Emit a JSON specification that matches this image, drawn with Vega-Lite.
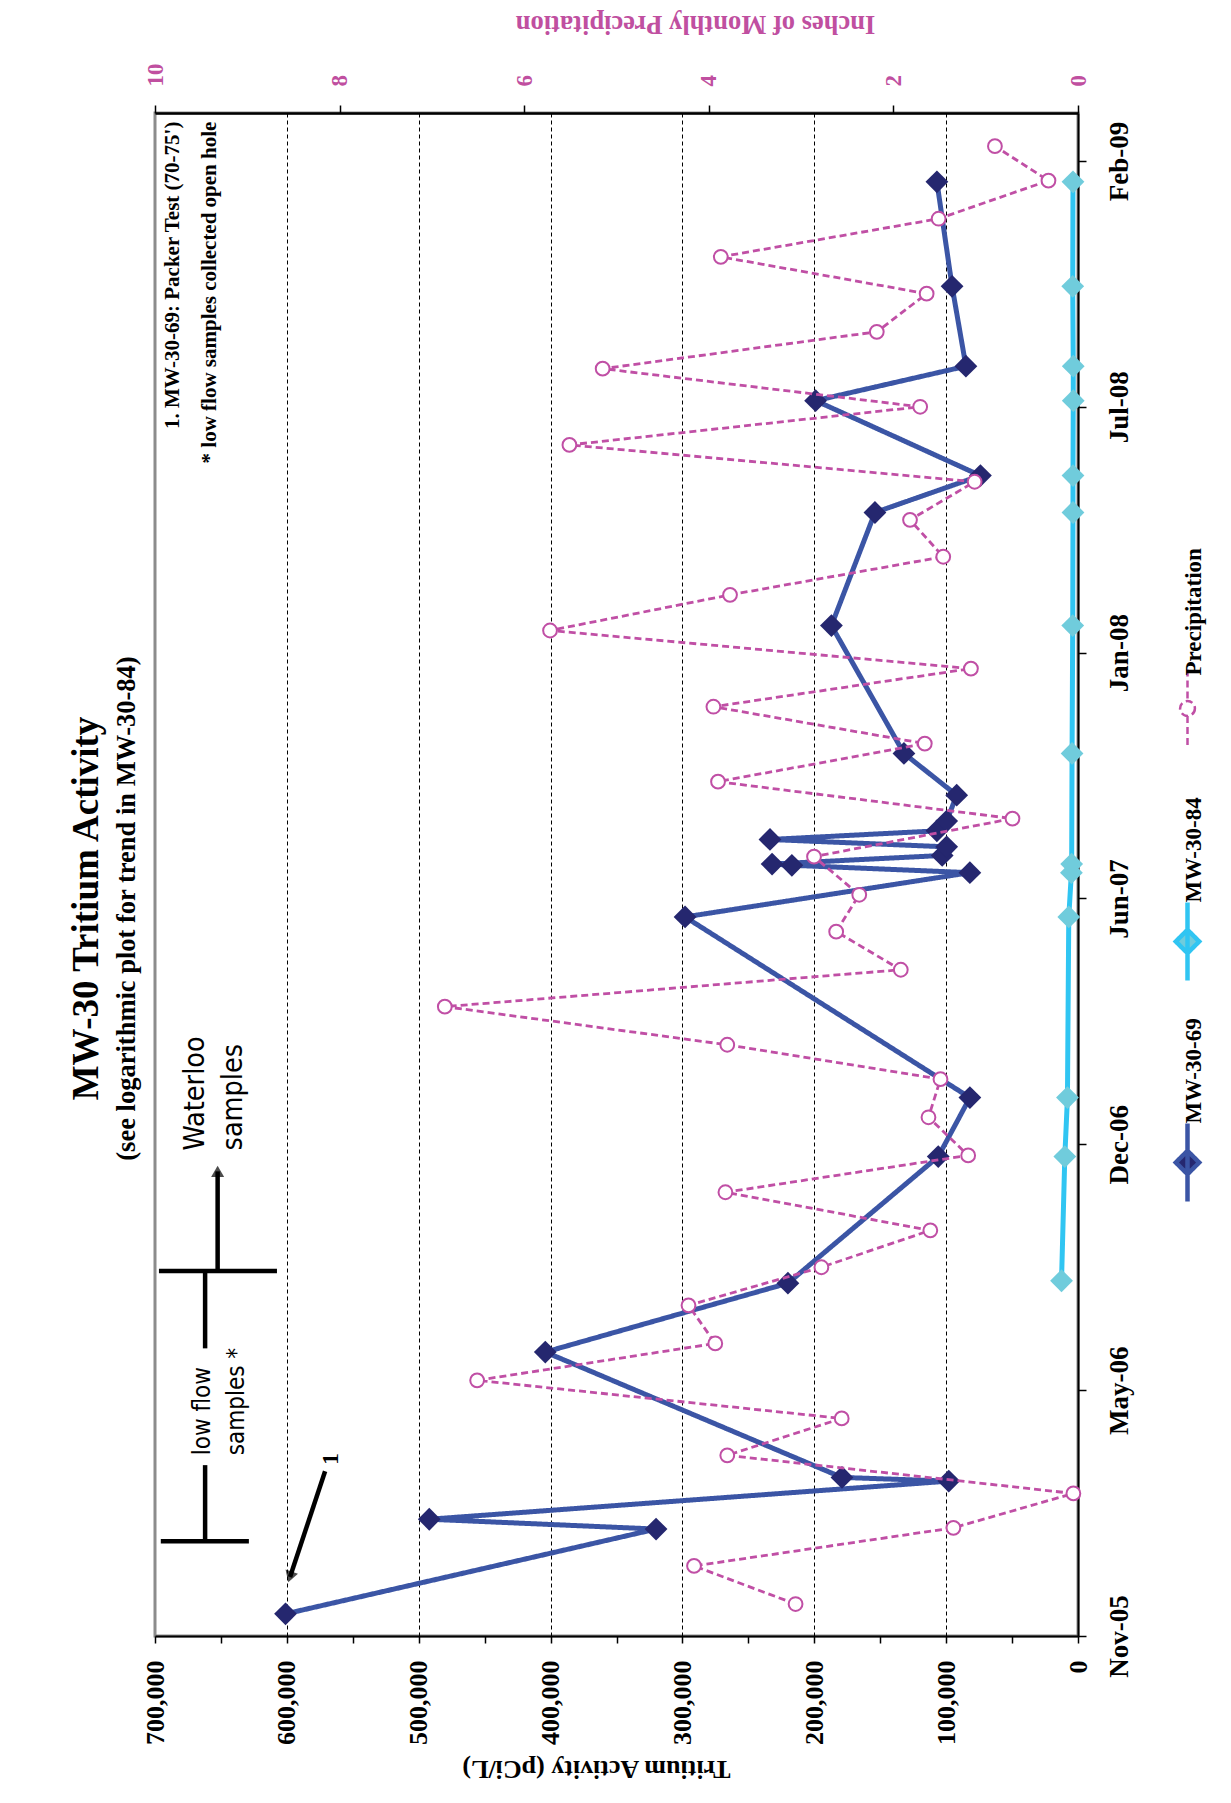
{
  "$schema": "https://vega.github.io/schema/vega-lite/v6.json",
  "width": 923,
  "height": 1523,
  "autosize": {"type": "none"},
  "padding": {"left": 155, "top": 113, "right": 153, "bottom": 167},
  "background": "white",
  "config": {"view": {"stroke": "#8c8c8c", "strokeWidth": 3}, "font": "Liberation Serif"},
  "title": {
    "text": "MW-30 Tritium Activity",
    "subtitle": "(see logarithmic plot for trend in MW-30-84)",
    "orient": "left",
    "anchor": "middle",
    "font": "Liberation Serif",
    "fontSize": 37,
    "fontWeight": "bold",
    "color": "black",
    "subtitleFont": "Liberation Serif",
    "subtitleFontSize": 26.5,
    "subtitleFontWeight": "bold",
    "subtitleColor": "black",
    "subtitlePadding": 8,
    "offset": 1,
    "dx": -34
  },
  "datasets": {
    "tritium": [
      {"series": "MW-30-69", "date": "2005-11-19", "pci": 601000},
      {"series": "MW-30-69", "date": "2006-01-27", "pci": 320000},
      {"series": "MW-30-69", "date": "2006-02-04", "pci": 492000},
      {"series": "MW-30-69", "date": "2006-03-07", "pci": 98000},
      {"series": "MW-30-69", "date": "2006-03-10", "pci": 179000},
      {"series": "MW-30-69", "date": "2006-06-20", "pci": 404000},
      {"series": "MW-30-69", "date": "2006-08-15", "pci": 220000},
      {"series": "MW-30-69", "date": "2006-11-26", "pci": 106000},
      {"series": "MW-30-69", "date": "2007-01-13", "pci": 82000},
      {"series": "MW-30-69", "date": "2007-06-09", "pci": 298000},
      {"series": "MW-30-69", "date": "2007-07-15", "pci": 82000},
      {"series": "MW-30-69", "date": "2007-07-21", "pci": 217000},
      {"series": "MW-30-69", "date": "2007-07-22", "pci": 232000},
      {"series": "MW-30-69", "date": "2007-07-29", "pci": 103000},
      {"series": "MW-30-69", "date": "2007-08-05", "pci": 99600},
      {"series": "MW-30-69", "date": "2007-08-11", "pci": 233600},
      {"series": "MW-30-69", "date": "2007-08-18", "pci": 107000},
      {"series": "MW-30-69", "date": "2007-08-26", "pci": 99600},
      {"series": "MW-30-69", "date": "2007-09-16", "pci": 92000},
      {"series": "MW-30-69", "date": "2007-10-20", "pci": 132000},
      {"series": "MW-30-69", "date": "2008-02-01", "pci": 187000},
      {"series": "MW-30-69", "date": "2008-05-03", "pci": 154000},
      {"series": "MW-30-69", "date": "2008-06-02", "pci": 74000},
      {"series": "MW-30-69", "date": "2008-08-02", "pci": 199000},
      {"series": "MW-30-69", "date": "2008-08-30", "pci": 85000},
      {"series": "MW-30-69", "date": "2008-11-03", "pci": 95500},
      {"series": "MW-30-69", "date": "2009-01-27", "pci": 107000},
      {"series": "MW-30-84", "date": "2006-08-17", "pci": 12500},
      {"series": "MW-30-84", "date": "2006-11-26", "pci": 10000},
      {"series": "MW-30-84", "date": "2007-01-13", "pci": 8000},
      {"series": "MW-30-84", "date": "2007-06-09", "pci": 7000},
      {"series": "MW-30-84", "date": "2007-07-15", "pci": 5000},
      {"series": "MW-30-84", "date": "2007-07-22", "pci": 4800},
      {"series": "MW-30-84", "date": "2007-10-20", "pci": 4500},
      {"series": "MW-30-84", "date": "2008-02-01", "pci": 4000},
      {"series": "MW-30-84", "date": "2008-05-03", "pci": 3800},
      {"series": "MW-30-84", "date": "2008-06-02", "pci": 3800},
      {"series": "MW-30-84", "date": "2008-08-02", "pci": 3600},
      {"series": "MW-30-84", "date": "2008-08-30", "pci": 3600},
      {"series": "MW-30-84", "date": "2008-11-03", "pci": 4000},
      {"series": "MW-30-84", "date": "2009-01-27", "pci": 3800}
    ],
    "precip": [
      {"series": "Precipitation", "date": "2005-11-27", "inches": 3.06},
      {"series": "Precipitation", "date": "2005-12-28", "inches": 4.16},
      {"series": "Precipitation", "date": "2006-01-28", "inches": 1.35},
      {"series": "Precipitation", "date": "2006-02-25", "inches": 0.05},
      {"series": "Precipitation", "date": "2006-03-28", "inches": 3.8},
      {"series": "Precipitation", "date": "2006-04-27", "inches": 2.56},
      {"series": "Precipitation", "date": "2006-05-28", "inches": 6.51},
      {"series": "Precipitation", "date": "2006-06-27", "inches": 3.93},
      {"series": "Precipitation", "date": "2006-07-28", "inches": 4.22},
      {"series": "Precipitation", "date": "2006-08-28", "inches": 2.78},
      {"series": "Precipitation", "date": "2006-09-27", "inches": 1.6},
      {"series": "Precipitation", "date": "2006-10-28", "inches": 3.82},
      {"series": "Precipitation", "date": "2006-11-27", "inches": 1.19},
      {"series": "Precipitation", "date": "2006-12-28", "inches": 1.62},
      {"series": "Precipitation", "date": "2007-01-28", "inches": 1.49},
      {"series": "Precipitation", "date": "2007-02-25", "inches": 3.8},
      {"series": "Precipitation", "date": "2007-03-28", "inches": 6.86},
      {"series": "Precipitation", "date": "2007-04-27", "inches": 1.92},
      {"series": "Precipitation", "date": "2007-05-28", "inches": 2.62},
      {"series": "Precipitation", "date": "2007-06-27", "inches": 2.37},
      {"series": "Precipitation", "date": "2007-07-28", "inches": 2.86},
      {"series": "Precipitation", "date": "2007-08-28", "inches": 0.71},
      {"series": "Precipitation", "date": "2007-09-27", "inches": 3.9},
      {"series": "Precipitation", "date": "2007-10-28", "inches": 1.66},
      {"series": "Precipitation", "date": "2007-11-27", "inches": 3.95},
      {"series": "Precipitation", "date": "2007-12-28", "inches": 1.16},
      {"series": "Precipitation", "date": "2008-01-28", "inches": 5.72},
      {"series": "Precipitation", "date": "2008-02-26", "inches": 3.77},
      {"series": "Precipitation", "date": "2008-03-28", "inches": 1.46},
      {"series": "Precipitation", "date": "2008-04-27", "inches": 1.82},
      {"series": "Precipitation", "date": "2008-05-28", "inches": 1.12},
      {"series": "Precipitation", "date": "2008-06-27", "inches": 5.51},
      {"series": "Precipitation", "date": "2008-07-28", "inches": 1.71},
      {"series": "Precipitation", "date": "2008-08-28", "inches": 5.15},
      {"series": "Precipitation", "date": "2008-09-27", "inches": 2.18},
      {"series": "Precipitation", "date": "2008-10-28", "inches": 1.64},
      {"series": "Precipitation", "date": "2008-11-27", "inches": 3.87},
      {"series": "Precipitation", "date": "2008-12-28", "inches": 1.51},
      {"series": "Precipitation", "date": "2009-01-28", "inches": 0.32},
      {"series": "Precipitation", "date": "2009-02-25", "inches": 0.9}
    ],
    "guides": [
      {"part": "bracket", "pci": 695600, "pci2": 628800, "date": "2006-01-17", "date2": "2006-01-17"},
      {"part": "bracket", "pci": 662000, "pci2": 662000, "date": "2006-01-17", "date2": "2006-03-20"},
      {"part": "bracket", "pci": 662000, "pci2": 662000, "date": "2006-06-23", "date2": "2006-08-25"},
      {"part": "bracket", "pci": 697000, "pci2": 607500, "date": "2006-08-25", "date2": "2006-08-25"},
      {"part": "shaft", "pci": 652500, "pci2": 652500, "date": "2006-08-25", "date2": "2006-11-14"},
      {"part": "shaft", "pci": 571000, "pci2": 597600, "date": "2006-03-15", "date2": "2005-12-19"}
    ],
    "heads": [
      {"head": "waterloo", "pci": 652500, "date": "2006-11-14"},
      {"head": "one", "pci": 597600, "date": "2005-12-19"}
    ],
    "notes": [
      {"note": "lowflow", "text": "low flow\nsamples *", "pci": 663600, "date": "2006-03-28"},
      {"note": "waterloo", "text": "Waterloo\nsamples", "pci": 669700, "date": "2006-12-01"},
      {"note": "packer", "text": "1. MW-30-69: Packer Test (70-75')\n* low flow samples collected open hole", "pci": 686400, "date": "2009-03-17"},
      {"note": "one", "text": "1", "pci": 566500, "date": "2006-03-25"}
    ]
  },
  "resolve": {"scale": {"x": "independent"}},
  "layer": [
    {
      "data": {"name": "tritium"},
      "mark": {"type": "line", "strokeWidth": 5, "strokeJoin": "round"},
      "encoding": {
        "x": {
          "field": "pci", "type": "quantitative",
          "scale": {"domain": [0, 700000], "reverse": true, "nice": false, "zero": false},
          "axis": {
            "orient": "bottom",
            "values": [0, 100000, 200000, 300000, 400000, 500000, 600000, 700000],
            "format": ",d",
            "labelAngle": 270, "labelAlign": "right", "labelBaseline": "middle",
            "labelFont": "Liberation Serif", "labelFontSize": 26, "labelFontWeight": "bold", "labelColor": "black",
            "labelPadding": 17, "labelFlush": false, "labelOverlap": false, "labelBound": false,
            "tickSize": 7, "tickColor": "black", "tickWidth": 1.5,
            "domainColor": "black", "domainWidth": 2,
            "grid": true, "gridColor": "black", "gridDash": [4, 3], "gridWidth": 1,
            "gridOpacity": {"condition": {"test": "datum.value === 0 || datum.value === 700000", "value": 0}, "value": 1},
            "title": "Tritium Activity (pCi/L)",
            "titleAngle": 180, "titleFont": "Liberation Serif", "titleFontSize": 26, "titleFontWeight": "bold", "titleColor": "black",
            "titleX": 441, "titleY": 132, "titleAlign": "center", "titleBaseline": "middle"
          }
        },
        "y": {
          "field": "date", "type": "temporal",
          "scale": {"type": "utc", "domain": [{"year": 2005, "month": 11, "date": 1, "utc": true}, {"year": 2009, "month": 3, "date": 24, "utc": true}]},
          "axis": {
            "orient": "right",
            "values": [
              {"year": 2005, "month": 11, "date": 1, "utc": true},
              {"year": 2006, "month": 5, "date": 20, "utc": true},
              {"year": 2006, "month": 12, "date": 6, "utc": true},
              {"year": 2007, "month": 6, "date": 24, "utc": true},
              {"year": 2008, "month": 1, "date": 10, "utc": true},
              {"year": 2008, "month": 7, "date": 28, "utc": true},
              {"year": 2009, "month": 2, "date": 13, "utc": true}
            ],
            "format": "%b-%y",
            "labelAngle": 270, "labelAlign": "center", "labelBaseline": "top",
            "labelFont": "Liberation Serif", "labelFontSize": 27, "labelFontWeight": "bold", "labelColor": "black",
            "labelPadding": 20, "labelFlush": false, "labelOverlap": false, "labelBound": false,
            "tickSize": 8, "tickColor": "black", "tickWidth": 1.5,
            "domainColor": "black", "domainWidth": 2,
            "grid": false, "title": null
          }
        },
        "stroke": {
          "field": "series", "type": "nominal",
          "scale": {"domain": ["Precipitation", "MW-30-84", "MW-30-69"], "range": ["#C04FA5", "#30C5F2", "#3B55A5"]},
          "legend": {
            "title": null,
            "orient": "none", "legendX": 1021, "legendY": 584,
            "direction": "vertical",
            "symbolSize": 6084, "symbolStrokeWidth": 4.5,
            "labelFont": "Liberation Serif", "labelFontSize": 23, "labelFontWeight": "bold", "labelColor": "black",
            "labelOffset": 0, "labelLimit": 400, "rowPadding": 28,
            "encoding": {
              "labels": {"angle": {"value": -90}, "dx": {"value": {"expr": "datum.value === 'Precipitation' ? 33 : 39"}}, "dy": {"value": -5}},
              "symbols": {
                "shape": {"value": {"expr": "datum.value === 'Precipitation' ? 'M0,-1L0,-0.19M0,0.19L0,1M0,1.41L0,1.41M0.19,0A0.19,0.19,0,1,1,-0.19,0A0.19,0.19,0,1,1,0.19,0Z' : 'M0,-1L0,1M-0.3,0L0,-0.3L0.3,0L0,0.3Z'"}},
                "fill": {"value": {"expr": "datum.value === 'Precipitation' ? '#ffffff' : datum.value === 'MW-30-84' ? '#70CCDC' : '#25276F'"}},
                "strokeDash": {"value": {"expr": "datum.value === 'Precipitation' ? [6, 3] : []"}},
                "strokeWidth": {"value": {"expr": "datum.value === 'Precipitation' ? 2.5 : 4.5"}}
              }
            }
          }
        },
        "strokeDash": {
          "field": "series", "type": "nominal",
          "scale": {"domain": ["Precipitation", "MW-30-84", "MW-30-69"], "range": [[7, 4], [1, 0], [1, 0]]},
          "legend": null
        },
        "order": {"field": "date", "type": "temporal"}
      }
    },
    {
      "data": {"name": "tritium"},
      "mark": {"type": "point", "shape": "diamond", "filled": true, "size": 520, "strokeWidth": 0, "opacity": 1},
      "encoding": {
        "x": {"field": "pci", "type": "quantitative", "scale": {"domain": [0, 700000], "reverse": true, "nice": false, "zero": false}, "axis": null},
        "y": {"field": "date", "type": "temporal", "scale": {"type": "utc", "domain": [{"year": 2005, "month": 11, "date": 1, "utc": true}, {"year": 2009, "month": 3, "date": 24, "utc": true}]}},
        "fill": {"field": "series", "type": "nominal", "scale": {"domain": ["MW-30-69", "MW-30-84"], "range": ["#25276F", "#70CCDC"]}, "legend": null}
      }
    },
    {
      "data": {"name": "guides"},
      "mark": {"type": "rule", "color": "black", "strokeWidth": 4.5},
      "encoding": {
        "x": {
          "field": "pci", "type": "quantitative",
          "scale": {"domain": [0, 700000], "reverse": true, "nice": false, "zero": false},
          "axis": {
            "orient": "bottom",
            "values": [50000, 150000, 250000, 350000, 450000, 550000, 650000],
            "labels": false, "grid": false, "domain": false,
            "ticks": true, "tickSize": 7, "tickColor": "black", "tickWidth": 1.5, "title": null
          }
        },
        "x2": {"field": "pci2"},
        "y": {"field": "date", "type": "temporal", "scale": {"type": "utc", "domain": [{"year": 2005, "month": 11, "date": 1, "utc": true}, {"year": 2009, "month": 3, "date": 24, "utc": true}]}},
        "y2": {"field": "date2"}
      }
    },
    {
      "data": {"name": "heads"},
      "transform": [{"filter": "datum.head === 'waterloo'"}],
      "mark": {"type": "point", "shape": "triangle-up", "filled": true, "color": "black", "size": 170, "strokeWidth": 0},
      "encoding": {
        "x": {"field": "pci", "type": "quantitative", "scale": {"domain": [0, 700000], "reverse": true, "nice": false, "zero": false}, "axis": null},
        "y": {"field": "date", "type": "temporal", "scale": {"type": "utc", "domain": [{"year": 2005, "month": 11, "date": 1, "utc": true}, {"year": 2009, "month": 3, "date": 24, "utc": true}]}}
      }
    },
    {
      "data": {"name": "heads"},
      "transform": [{"filter": "datum.head === 'one'"}],
      "mark": {"type": "point", "shape": "triangle-down", "angle": 18, "filled": true, "color": "black", "size": 170, "strokeWidth": 0},
      "encoding": {
        "x": {"field": "pci", "type": "quantitative", "scale": {"domain": [0, 700000], "reverse": true, "nice": false, "zero": false}, "axis": null},
        "y": {"field": "date", "type": "temporal", "scale": {"type": "utc", "domain": [{"year": 2005, "month": 11, "date": 1, "utc": true}, {"year": 2009, "month": 3, "date": 24, "utc": true}]}}
      }
    },
    {
      "data": {"name": "notes"},
      "transform": [{"filter": "datum.note === 'lowflow'"}],
      "mark": {"type": "text", "angle": 270, "align": "left", "baseline": "middle", "lineBreak": "\n", "lineHeight": 34, "font": "DejaVu Sans Condensed, DejaVu Sans, sans-serif", "fontSize": 24, "color": "black"},
      "encoding": {
        "x": {"field": "pci", "type": "quantitative", "scale": {"domain": [0, 700000], "reverse": true, "nice": false, "zero": false}, "axis": null},
        "y": {"field": "date", "type": "temporal", "scale": {"type": "utc", "domain": [{"year": 2005, "month": 11, "date": 1, "utc": true}, {"year": 2009, "month": 3, "date": 24, "utc": true}]}},
        "text": {"field": "text"}
      }
    },
    {
      "data": {"name": "notes"},
      "transform": [{"filter": "datum.note === 'waterloo'"}],
      "mark": {"type": "text", "angle": 270, "align": "left", "baseline": "middle", "lineBreak": "\n", "lineHeight": 38, "font": "DejaVu Sans Condensed, DejaVu Sans, sans-serif", "fontSize": 28.5, "color": "black"},
      "encoding": {
        "x": {"field": "pci", "type": "quantitative", "scale": {"domain": [0, 700000], "reverse": true, "nice": false, "zero": false}, "axis": null},
        "y": {"field": "date", "type": "temporal", "scale": {"type": "utc", "domain": [{"year": 2005, "month": 11, "date": 1, "utc": true}, {"year": 2009, "month": 3, "date": 24, "utc": true}]}},
        "text": {"field": "text"}
      }
    },
    {
      "data": {"name": "notes"},
      "transform": [{"filter": "datum.note === 'packer'"}],
      "mark": {"type": "text", "angle": 270, "align": "right", "baseline": "middle", "lineBreak": "\n", "lineHeight": 37, "font": "Liberation Serif", "fontWeight": "bold", "fontSize": 21, "color": "black"},
      "encoding": {
        "x": {"field": "pci", "type": "quantitative", "scale": {"domain": [0, 700000], "reverse": true, "nice": false, "zero": false}, "axis": null},
        "y": {"field": "date", "type": "temporal", "scale": {"type": "utc", "domain": [{"year": 2005, "month": 11, "date": 1, "utc": true}, {"year": 2009, "month": 3, "date": 24, "utc": true}]}},
        "text": {"field": "text"}
      }
    },
    {
      "data": {"name": "notes"},
      "transform": [{"filter": "datum.note === 'one'"}],
      "mark": {"type": "text", "angle": 270, "align": "center", "baseline": "middle", "font": "Liberation Serif", "fontWeight": "bold", "fontSize": 24, "color": "black"},
      "encoding": {
        "x": {"field": "pci", "type": "quantitative", "scale": {"domain": [0, 700000], "reverse": true, "nice": false, "zero": false}, "axis": null},
        "y": {"field": "date", "type": "temporal", "scale": {"type": "utc", "domain": [{"year": 2005, "month": 11, "date": 1, "utc": true}, {"year": 2009, "month": 3, "date": 24, "utc": true}]}},
        "text": {"field": "text"}
      }
    },
    {
      "data": {"name": "precip"},
      "mark": {"type": "line", "strokeWidth": 2.8},
      "encoding": {
        "x": {
          "field": "inches", "type": "quantitative",
          "scale": {"domain": [0, 10], "reverse": true, "nice": false, "zero": false},
          "axis": {
            "orient": "top",
            "values": [0, 2, 4, 6, 8, 10],
            "labelAngle": 270, "labelAlign": "left", "labelBaseline": "middle",
            "labelFont": "Liberation Serif", "labelFontSize": 23, "labelFontWeight": "bold", "labelColor": "#C04FA0",
            "labelPadding": 19, "labelFlush": false, "labelOverlap": false, "labelBound": false,
            "tickSize": 8, "tickColor": "black", "tickWidth": 1.5,
            "domainColor": "black", "domainWidth": 2.5, "grid": false,
            "title": "Inches of Monthly Precipitation",
            "titleAngle": 180, "titleFont": "Liberation Serif", "titleFontSize": 26.5, "titleFontWeight": "bold", "titleColor": "#C04FA0",
            "titleX": 540, "titleY": -90, "titleAlign": "center", "titleBaseline": "middle"
          }
        },
        "y": {"field": "date", "type": "temporal", "scale": {"type": "utc", "domain": [{"year": 2005, "month": 11, "date": 1, "utc": true}, {"year": 2009, "month": 3, "date": 24, "utc": true}]}},
        "stroke": {"field": "series", "type": "nominal", "scale": {"domain": ["Precipitation", "MW-30-84", "MW-30-69"], "range": ["#C04FA5", "#30C5F2", "#3B55A5"]}},
        "strokeDash": {"field": "series", "type": "nominal", "scale": {"domain": ["Precipitation", "MW-30-84", "MW-30-69"], "range": [[7, 4], [1, 0], [1, 0]]}, "legend": null},
        "order": {"field": "date", "type": "temporal"}
      }
    },
    {
      "data": {"name": "precip"},
      "mark": {"type": "point", "shape": "circle", "filled": true, "fill": "white", "stroke": "#C04FA5", "strokeWidth": 2, "size": 190, "opacity": 1},
      "encoding": {
        "x": {"field": "inches", "type": "quantitative", "scale": {"domain": [0, 10], "reverse": true, "nice": false, "zero": false}, "axis": null},
        "y": {"field": "date", "type": "temporal", "scale": {"type": "utc", "domain": [{"year": 2005, "month": 11, "date": 1, "utc": true}, {"year": 2009, "month": 3, "date": 24, "utc": true}]}}
      }
    }
  ]
}
